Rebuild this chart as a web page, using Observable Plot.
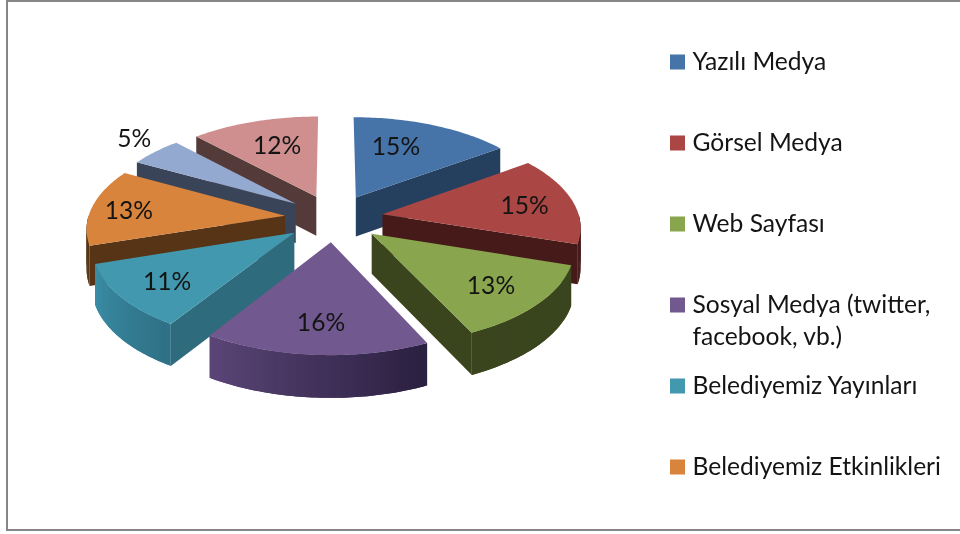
<!DOCTYPE html>
<html><head><meta charset="utf-8">
<script src="https://cdn.jsdelivr.net/npm/d3@7"></script>
<script src="https://cdn.jsdelivr.net/npm/@observablehq/plot@0.6"></script>
<style>
html,body{margin:0;padding:0;background:#fff;overflow:hidden;width:960px;height:534px}
#frame{position:absolute;left:6px;top:0;width:1000px;height:527px;border:2px solid #868686;box-sizing:content-box}
#chart{position:absolute;left:0;top:0}
#chart svg{display:block;filter:blur(.45px);background:transparent}
</style></head><body>
<div id="frame"></div><div id="chart"></div>
<script>
const shares = [15, 15, 13, 16, 11, 13, 5, 12];
const topColors = ["#4673A8","#AA4643","#89A54E","#71588F","#4198AF","#D8843C","#93A9CF","#CE8F8E"];
const wallColors = ["#253F5E","#451A18","#3A451E","#2A2040","#2E6B7C","#573415","#3A4458","#543B3A"];
const rimFrom = ["#253F5E","#451A18","#3A451E","#2A2040","#2F7186","#573415","#3A4458","#543B3A"];
const rimTo   = ["#253F5E","#451A18","#3A451E","#5C4678","#3A8FA7","#573415","#3A4458","#543B3A"];
const paintOrder = [7, 0, 6, 1, 5, 2, 4, 3];
const labelReach = [0.67, 0.745, 0.73, 0.72, 0.75, 0.81, 1.23, 0.68];
const labelTurn = [-7, 0, 0, 0, 0, 0, 3, 2];
const legendLabels = ["Yazılı Medya","Görsel Medya","Web Sayfası","Sosyal Medya (twitter,\nfacebook, vb.)","Belediyemiz Yayınları","Belediyemiz Etkinlikleri"];

const W = 960, H = 534;
const cx = 334, cy = 218, R = 197, Ry = 94, explode = 0.25, persp = 0.115, depth = 39.5;
const textColor = "#141414", font = "Lato, 'Open Sans', sans-serif", fontSize = 24.6;

const total = d3.sum(shares);
const toRad = Math.PI / 180;
const ends = d3.cumsum(shares).map(v => v / total * 360);
const slices = shares.map((v, i) => {
  const a0 = i ? ends[i - 1] : 0, a1 = ends[i], mid = (a0 + a1) / 2;
  return {i, v, a0, a1, mid, ex: explode * Math.sin(mid * toRad), ey: -explode * Math.cos(mid * toRad)};
});
function project(s, r, deg) {
  const X = s.ex + r * Math.sin(deg * toRad), Y = s.ey - r * Math.cos(deg * toRad);
  const p = 1 / (1 - persp * Y);
  return {x: cx + R * X * p, y: cy + Ry * Y * p, d: depth * Math.sqrt(p)};
}
const faces = [];
let zid = 0;
for (const k of paintOrder) {
  const s = slices[k];
  // radial wall facing the viewer
  const wallDeg = s.a1 < 180 ? s.a1 : (s.a0 > 180 ? s.a0 : null);
  if (wallDeg !== null) {
    const z = zid++;
    for (const r of [0, 1]) {
      const q = project(s, r, wallDeg);
      faces.push({z, x1: q.x, y1: q.y, x2: q.x, y2: q.y + q.d, fill: wallColors[k]});
    }
  }
  // curved outer rim, front half only; each strip overlaps the next so no seams show
  const from = Math.max(s.a0, 90), to = Math.min(s.a1, 270);
  if (to > from) {
    const mix = d3.interpolateRgb(rimFrom[k], rimTo[k]);
    const steps = Math.ceil(to - from);
    for (let j = steps - 1; j >= 0; j--) {
      const z = zid++;
      const fill = mix((j + .5) / steps);
      const a0 = from + (to - from) * j / steps;
      const a1 = Math.min(to, a0 + 2);
      for (const a of [a0, (a0 + a1) / 2, a1]) {
        const q = project(s, 1, a);
        faces.push({z, x1: q.x, y1: q.y, x2: q.x, y2: q.y + q.d, fill});
      }
    }
  }
  // top face: fan from the apex along the arc
  const z = zid++, apex = project(s, 0, 0);
  const arc = d3.range(s.a0, s.a1, 1).concat([s.a1]);
  for (const a of arc) {
    const q = project(s, 1, a);
    faces.push({z, x1: apex.x, y1: apex.y, x2: q.x, y2: q.y, fill: topColors[k]});
  }
}
const labels = slices.map(s => {
  const q = project(s, labelReach[s.i], s.mid + labelTurn[s.i]);
  return {x: q.x, y: q.y + 2, t: s.v + "%"};
});
const legendX = 670, legendBox = 15, legendTextX = 692, legendTop = 62, legendStep = 81, lineGap = 32;
const legendRows = legendLabels.map((t, i) => ({t, y: legendTop + i * legendStep, fill: topColors[i]}));

const plot = Plot.plot({
  width: W, height: H, margin: 0,
  style: {background: "transparent", fontFamily: font},
  x: {domain: [0, W], range: [0, W], axis: null},
  y: {domain: [0, H], range: [0, H], axis: null},
  marks: [
    Plot.area(faces, {x1: "x1", y1: "y1", x2: "x2", y2: "y2", z: "z", fill: "fill", curve: "linear"}),
    Plot.text(labels, {x: "x", y: "y", text: "t", fontSize, fill: textColor, fontFamily: font}),
    Plot.rect(legendRows, {x1: legendX, x2: legendX + legendBox, y1: d => d.y - legendBox / 2, y2: d => d.y + legendBox / 2, fill: "fill"}),
    Plot.text(legendRows, {x: legendTextX, y: d => d.y - lineGap / 2 + 1, text: "t", textAnchor: "start", lineAnchor: "top", lineHeight: lineGap / fontSize, fontSize, fill: textColor, fontFamily: font})
  ]
});
document.getElementById("chart").appendChild(plot);
</script>
</body></html>
